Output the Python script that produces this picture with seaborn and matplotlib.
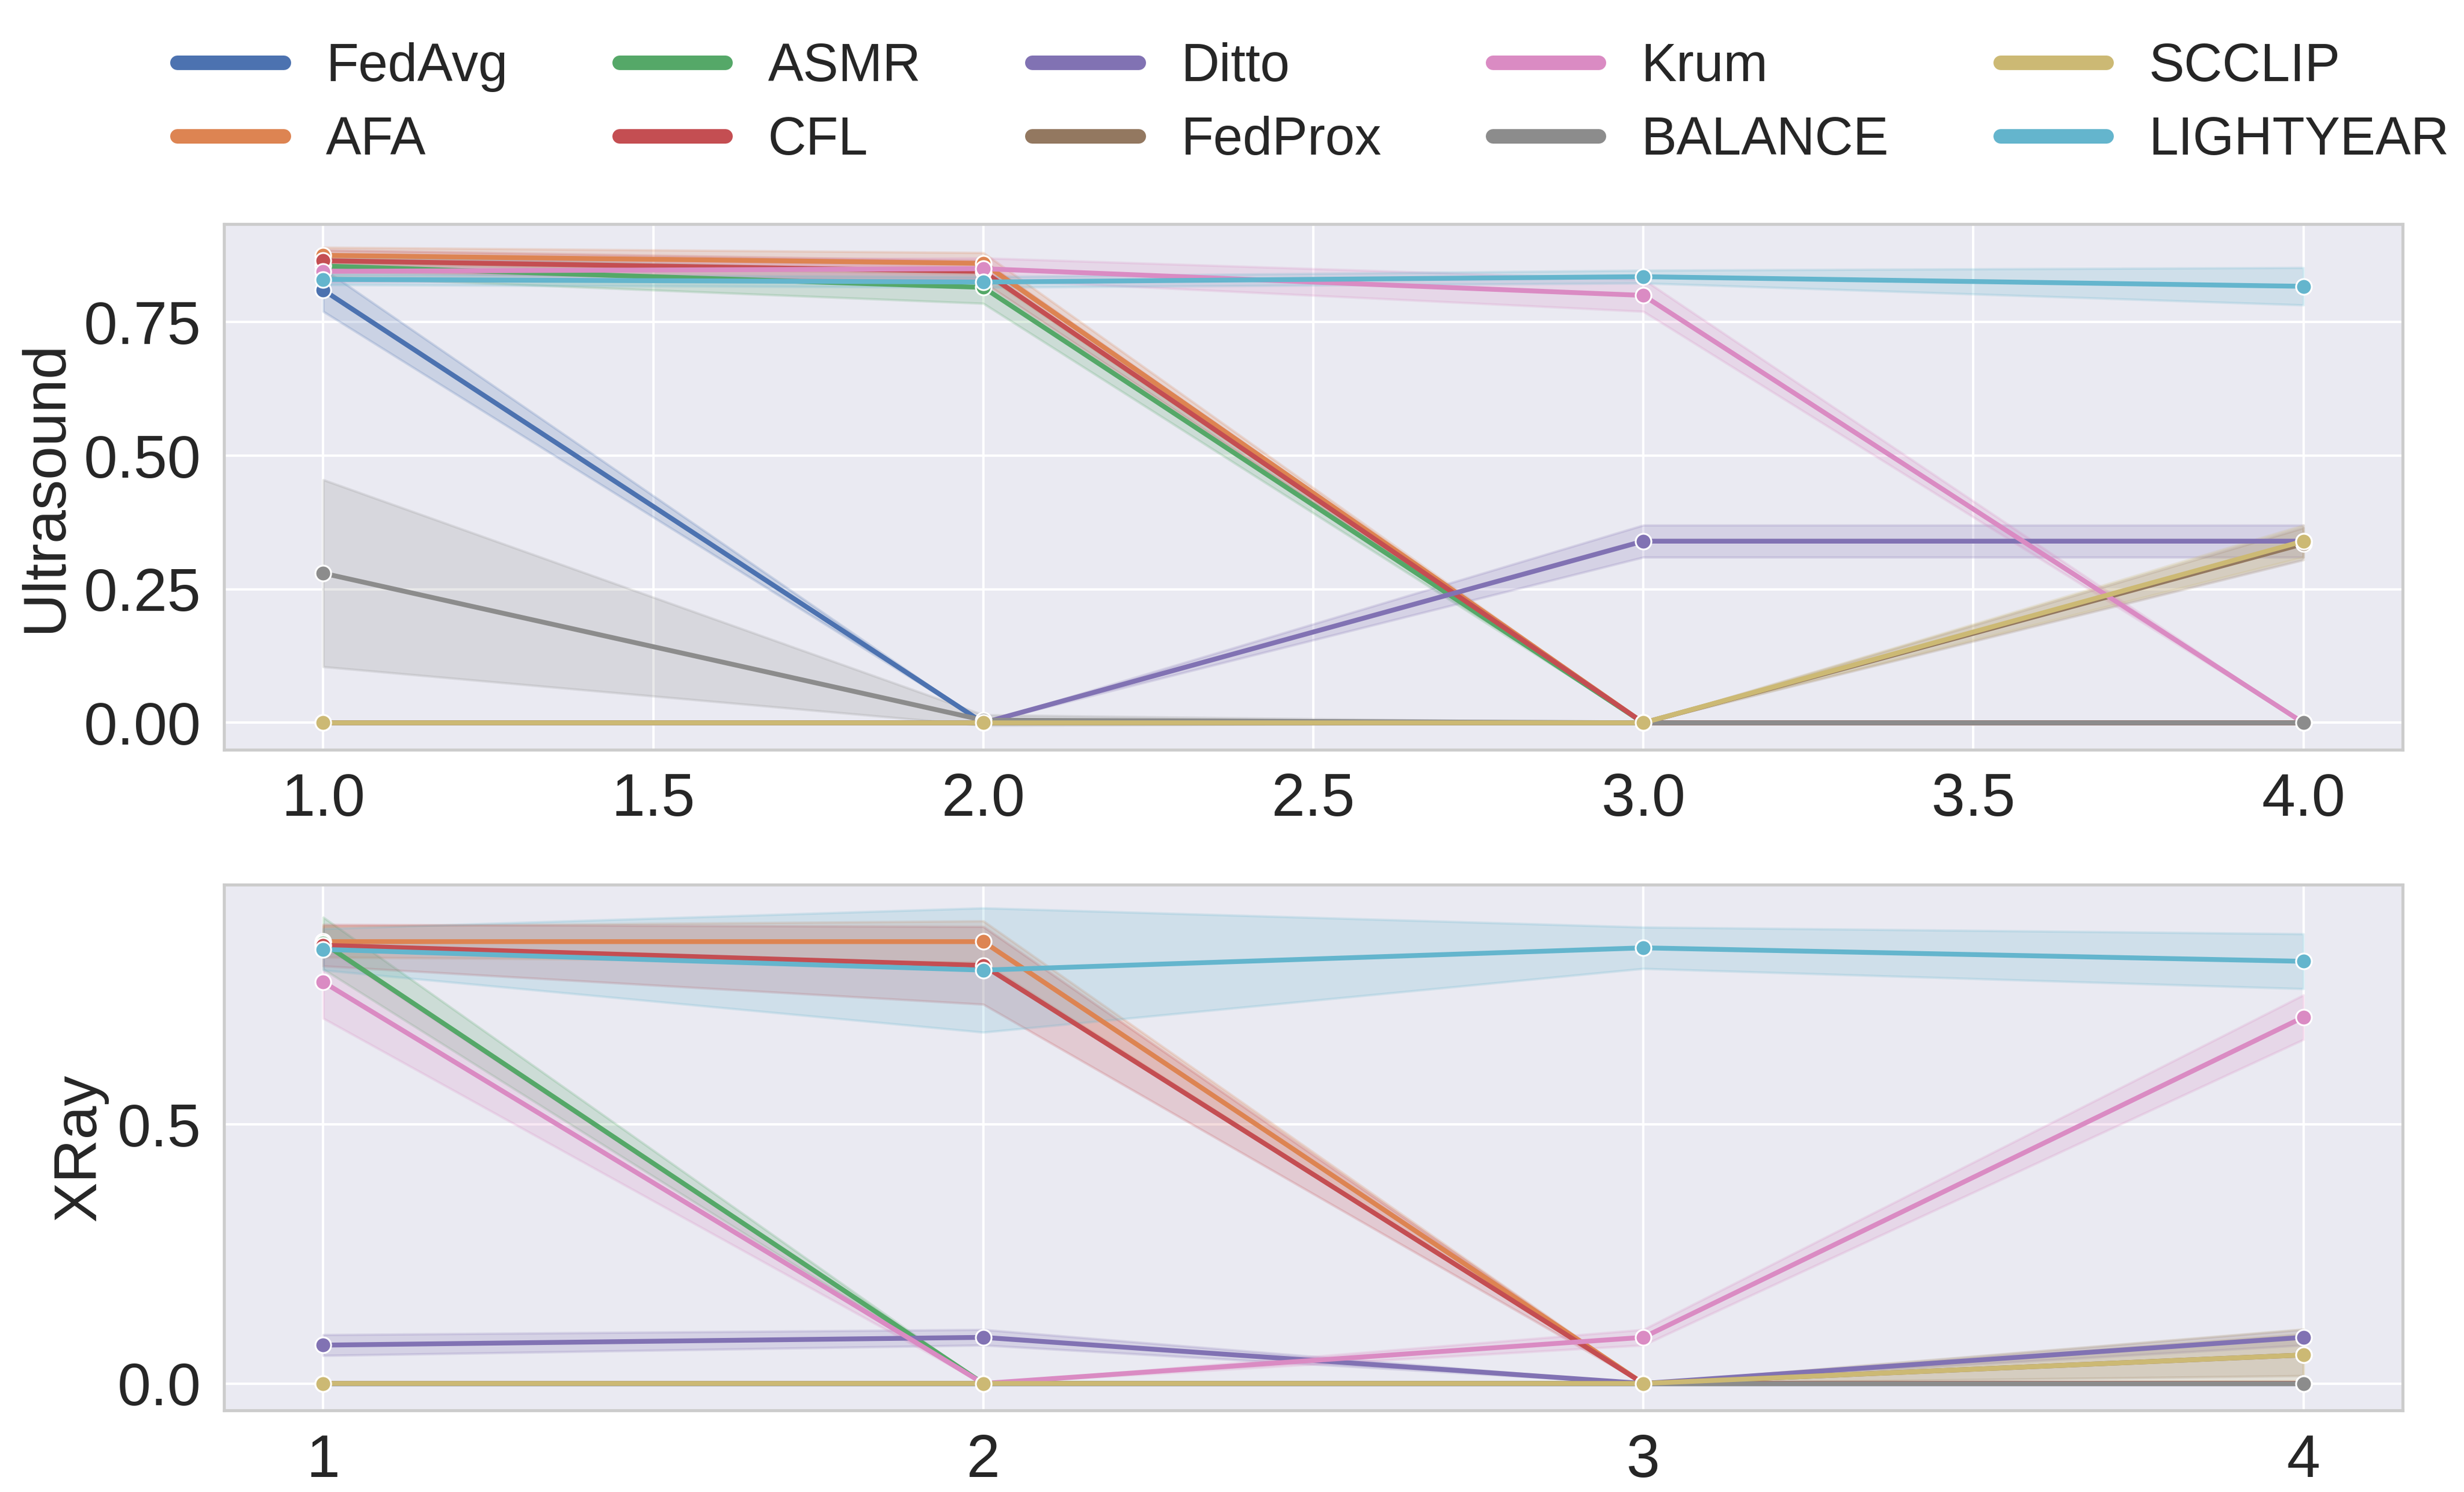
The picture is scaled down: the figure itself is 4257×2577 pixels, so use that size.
import matplotlib.pyplot as plt
from matplotlib.lines import Line2D
import seaborn as sns
import pandas as pd

# rounds on the x axis
rounds = [1.0, 2.0, 3.0, 4.0]

methods = ["FedAvg", "AFA", "ASMR", "CFL", "Ditto",
           "FedProx", "Krum", "BALANCE", "SCCLIP", "LIGHTYEAR"]

# Ultrasound: mean accuracy per round, and half width of the band
us_mean = {
    "FedAvg":    [0.81, 0.0, 0.0, 0.0],
    "AFA":       [0.875, 0.86, 0.0, 0.0],
    "ASMR":      [0.855, 0.815, 0.0, 0.0],
    "CFL":       [0.865, 0.845, 0.0, 0.0],
    "Ditto":     [0.0, 0.0, 0.34, 0.34],
    "FedProx":   [0.0, 0.0, 0.0, 0.335],
    "Krum":      [0.845, 0.85, 0.80, 0.0],
    "BALANCE":   [0.28, 0.005, 0.0, 0.0],
    "SCCLIP":    [0.0, 0.0, 0.0, 0.34],
    "LIGHTYEAR": [0.83, 0.825, 0.835, 0.817],
}
us_err = {
    "FedAvg":    [0.04, 0.0, 0.0, 0.0],
    "AFA":       [0.015, 0.02, 0.0, 0.0],
    "ASMR":      [0.02, 0.03, 0.0, 0.0],
    "CFL":       [0.02, 0.02, 0.0, 0.0],
    "Ditto":     [0.0, 0.0, 0.03, 0.03],
    "FedProx":   [0.0, 0.0, 0.0, 0.03],
    "Krum":      [0.02, 0.02, 0.03, 0.0],
    "BALANCE":   [0.175, 0.01, 0.0, 0.0],
    "SCCLIP":    [0.0, 0.0, 0.0, 0.03],
    "LIGHTYEAR": [0.01, 0.01, 0.012, 0.035],
}

# XRay
xr_mean = {
    "FedAvg":    [0.0, 0.0, 0.0, 0.0],
    "AFA":       [0.853, 0.853, 0.0, 0.0],
    "ASMR":      [0.85, 0.0, 0.0, 0.0],
    "CFL":       [0.846, 0.807, 0.0, 0.0],
    "Ditto":     [0.074, 0.089, 0.0, 0.089],
    "FedProx":   [0.0, 0.0, 0.0, 0.055],
    "Krum":      [0.775, 0.0, 0.089, 0.707],
    "BALANCE":   [0.0, 0.0, 0.0, 0.0],
    "SCCLIP":    [0.0, 0.0, 0.0, 0.055],
    "LIGHTYEAR": [0.838, 0.798, 0.841, 0.815],
}
xr_err = {
    "FedAvg":    [0.0, 0.0, 0.0, 0.0],
    "AFA":       [0.03, 0.04, 0.0, 0.0],
    "ASMR":      [0.05, 0.0, 0.0, 0.0],
    "CFL":       [0.04, 0.075, 0.0, 0.0],
    "Ditto":     [0.02, 0.015, 0.0, 0.015],
    "FedProx":   [0.0, 0.0, 0.0, 0.04],
    "Krum":      [0.07, 0.0, 0.015, 0.043],
    "BALANCE":   [0.0, 0.0, 0.0, 0.0],
    "SCCLIP":    [0.0, 0.0, 0.0, 0.05],
    "LIGHTYEAR": [0.04, 0.12, 0.04, 0.053],
}

ylabels = ["Ultrasound", "XRay"]


def to_long(mean_dict):
    rows = []
    for m in methods:
        for x, v in zip(rounds, mean_dict[m]):
            rows.append({"round": x, "acc": v, "method": m})
    return pd.DataFrame(rows)


def draw_panel(ax, mean_dict, err_dict, palette):
    df = to_long(mean_dict)
    sns.lineplot(data=df, x="round", y="acc", hue="method", hue_order=methods,
                 palette=palette, marker="o", markersize=6.5, linewidth=2,
                 errorbar=None, legend=False, ax=ax)
    # confidence bands
    for i, m in enumerate(methods):
        lo = [v - e for v, e in zip(mean_dict[m], err_dict[m])]
        hi = [v + e for v, e in zip(mean_dict[m], err_dict[m])]
        ax.fill_between(rounds, lo, hi, color=palette[i], alpha=0.2, linewidth=1)


sns.set_theme(style="darkgrid", font_scale=2.3,
              rc={"axes.edgecolor": ".8", "axes.linewidth": 1.25})
plt.rcParams["font.family"] = ["Liberation Sans", "DejaVu Sans"]
plt.rcParams["xtick.labelsize"] = 25
plt.rcParams["ytick.labelsize"] = 25
plt.rcParams["axes.labelsize"] = 25

palette = sns.color_palette("deep", len(methods))

fig, (ax1, ax2) = plt.subplots(2, 1, figsize=(14.19, 8.59), dpi=300)
fig.subplots_adjust(left=0.091, right=0.975, top=0.850, bottom=0.0547, hspace=0.257)

draw_panel(ax1, us_mean, us_err, palette)
draw_panel(ax2, xr_mean, xr_err, palette)

ax1.set_xlim(0.85, 4.15)
ax2.set_xlim(0.85, 4.15)
ax1.set_ylim(-0.05, 0.934)
ax2.set_ylim(-0.052, 0.963)
ax1.set_yticks([0.0, 0.25, 0.5, 0.75])
ax2.set_yticks([0.0, 0.5])
ax1.set_xticks([1.0, 1.5, 2.0, 2.5, 3.0, 3.5, 4.0])
ax2.set_xticks([1, 2, 3, 4])

for ax, lab in zip([ax1, ax2], ylabels):
    ax.set(xlabel="", ylabel=lab)
    for s in ax.spines.values():
        s.set_visible(True)

handles = [Line2D([0], [0], color=palette[i], linewidth=6, solid_capstyle="round")
           for i in range(len(methods))]
ax1.legend(handles, methods, loc="lower center", bbox_to_anchor=(0.5, 1.02),
           ncol=5, frameon=False, fontsize=22, handlelength=2.0,
           handletextpad=0.8, columnspacing=2.1, labelspacing=0.45)

fig.savefig("out.png", dpi=300)
